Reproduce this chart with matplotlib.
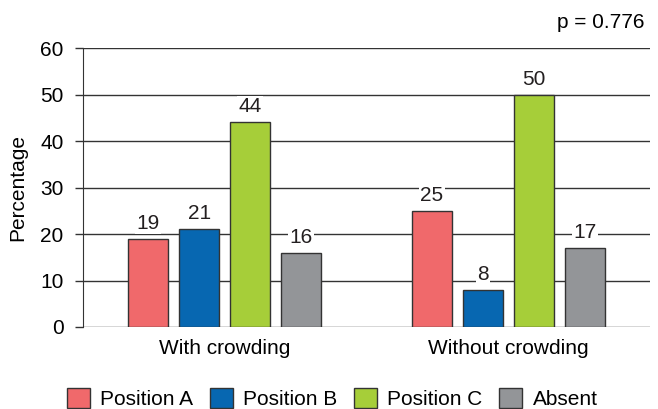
import matplotlib.pyplot as plt
import numpy as np

plt.rcParams['font.family'] = ['Liberation Sans', 'DejaVu Sans']
plt.rcParams['font.size'] = 15

groups = ["With crowding", "Without crowding"]
series = ["Position A", "Position B", "Position C", "Absent"]
values = [
    [19, 25],
    [21, 8],
    [44, 50],
    [16, 17],
]
colors = ["#F0696B", "#0767B1", "#A6CE39", "#939598"]

fig = plt.figure(figsize=(6.58, 4.09), dpi=100)
ax = fig.add_axes([0.126, 0.2005, 0.862, 0.682])

x = np.arange(len(groups))
width = 0.141
step = 0.18
for i, (name, vals) in enumerate(zip(series, values)):
    pos = x + (i - 1.5) * step
    bars = ax.bar(pos, vals, width, color=colors[i], edgecolor="#333333",
                  linewidth=1, label=name, zorder=3)
    for b, v in zip(bars, vals):
        ax.text(b.get_x() + b.get_width() / 2, v + 1.3, str(v), ha="center",
                va="bottom", fontsize=15, color="#231f20", zorder=4,
                bbox=dict(facecolor="white", edgecolor="none", pad=1))

ax.set_xlim(-0.5, 1.5)
ax.set_ylim(0, 60)
ax.set_yticks(range(0, 61, 10))
ax.set_xticks(x)
ax.set_xticklabels(groups)
ax.tick_params(axis="x", length=0, pad=9)
ax.tick_params(axis="y", length=6, width=1, color="#333333", pad=8)
ax.yaxis.grid(True, color="#333333", linewidth=1)
ax.set_axisbelow(True)
for s in ["top", "right", "bottom"]:
    ax.spines[s].set_visible(False)
ax.spines["left"].set_color("#333333")
ax.set_ylabel("Percentage")
ax.yaxis.set_label_coords(-0.098, 0.5)

fig.text(0.98, 0.945, "p = 0.776", ha="right", va="center", fontsize=15)

fig.legend(loc="lower center", ncol=4, frameon=False, bbox_to_anchor=(0.505, -0.045),
           handlelength=1.1, handleheight=1.1, handletextpad=0.5, columnspacing=0.8)

fig.savefig("out.png", dpi=100)
